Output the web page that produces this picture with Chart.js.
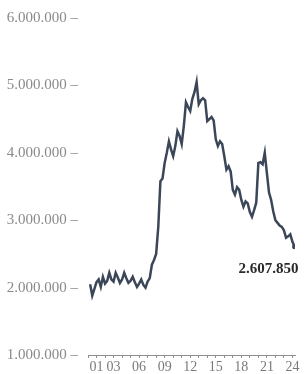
<!DOCTYPE html>
<html>
<head>
<meta charset="utf-8">
<script src="https://cdn.jsdelivr.net/npm/chart.js@4"></script>
<style>
  body { margin: 0; background: #fff; }
  canvas { display: block; }
</style>
</head>
<body>
<canvas id="chart" width="305" height="374"></canvas>
<script>
// quarterly points, decimal years
const dates = [
  2000.25, 2000.5, 2000.75,
  2001.0, 2001.25, 2001.5, 2001.75,
  2002.0, 2002.25, 2002.5, 2002.75,
  2003.0, 2003.25, 2003.5, 2003.75,
  2004.0, 2004.25, 2004.5, 2004.75,
  2005.0, 2005.25, 2005.5, 2005.75,
  2006.0, 2006.25, 2006.5, 2006.75,
  2007.0, 2007.25, 2007.5, 2007.75,
  2008.0, 2008.25, 2008.5, 2008.75,
  2009.0, 2009.25, 2009.5, 2009.75,
  2010.0, 2010.25, 2010.5, 2010.75,
  2011.0, 2011.25, 2011.5, 2011.75,
  2012.0, 2012.25, 2012.5, 2012.75,
  2013.0, 2013.25, 2013.5, 2013.75,
  2014.0, 2014.25, 2014.5, 2014.75,
  2015.0, 2015.25, 2015.5, 2015.75,
  2016.0, 2016.25, 2016.5, 2016.75,
  2017.0, 2017.25, 2017.5, 2017.75,
  2018.0, 2018.25, 2018.5, 2018.75,
  2019.0, 2019.25, 2019.5, 2019.75,
  2020.0, 2020.25, 2020.5, 2020.75,
  2021.0, 2021.25, 2021.5, 2021.75,
  2022.0, 2022.25, 2022.5, 2022.75,
  2023.0, 2023.25, 2023.5, 2023.75,
  2024.0, 2024.25
];

const values = [
  2050000, 1880000, 1980000,
  2080000, 2120000, 2010000, 2160000,
  2060000, 2100000, 2220000, 2120000,
  2090000, 2220000, 2150000, 2070000,
  2120000, 2220000, 2140000, 2070000,
  2100000, 2160000, 2080000, 2010000,
  2060000, 2120000, 2040000, 2000000,
  2090000, 2140000, 2340000, 2410000,
  2500000, 2900000, 3580000, 3620000,
  3850000, 4000000, 4170000, 4050000,
  3950000, 4100000, 4320000, 4250000,
  4130000, 4400000, 4750000, 4680000,
  4620000, 4800000, 4900000, 5050000,
  4720000, 4780000, 4810000, 4780000,
  4470000, 4500000, 4530000, 4480000,
  4200000, 4100000, 4170000, 4130000,
  3950000, 3750000, 3800000, 3720000,
  3450000, 3380000, 3490000, 3450000,
  3300000, 3200000, 3280000, 3250000,
  3120000, 3050000, 3150000, 3260000,
  3850000, 3860000, 3830000, 4000000,
  3700000, 3410000, 3300000, 3130000,
  3000000, 2960000, 2920000, 2900000,
  2850000, 2740000, 2760000, 2790000,
  2680000, 2607850
];

const yTicks = [1000000, 2000000, 3000000, 4000000, 5000000, 6000000];
const xTickYears = [2000, 2001, 2002, 2003, 2004, 2005, 2006, 2007, 2008, 2009, 2010, 2011, 2012,
  2013, 2014, 2015, 2016, 2017, 2018, 2019, 2020, 2021, 2022, 2023, 2024];
const xLabelYears = [2001, 2003, 2006, 2009, 2012, 2015, 2018, 2021, 2024];

const lineColor = "#3b4759";
const tickGray = "#8c8c8c";

function fmt(n) {
  return Math.round(n).toString().replace(/\B(?=(\d{3})+(?!\d))/g, ".");
}

// label under the last point
const lastLabel = {
  id: "lastLabel",
  afterDatasetsDraw(chart) {
    const meta = chart.getDatasetMeta(0);
    const pt = meta.data[meta.data.length - 1];
    const c = chart.ctx;
    c.save();
    c.font = "bold 15px 'Liberation Serif', serif";
    c.fillStyle = "#2a2a2a";
    c.textAlign = "right";
    c.textBaseline = "middle";
    c.fillText(fmt(values[values.length - 1]), pt.x + 4, pt.y + 22);
    c.restore();
  }
};

const points = dates.map((d, i) => ({ x: d, y: values[i] }));

new Chart(document.getElementById("chart"), {
  type: "line",
  data: {
    datasets: [{
      data: points,
      borderColor: lineColor,
      borderWidth: 2.5,
      tension: 0,
      pointRadius: ctx => ctx.dataIndex === values.length - 1 ? 2.5 : 0,
      pointBackgroundColor: lineColor,
      pointBorderWidth: 0
    }]
  },
  options: {
    responsive: false,
    animation: false,
    layout: { padding: { left: 4, right: 10, top: 18, bottom: 0 } },
    plugins: { legend: { display: false }, tooltip: { enabled: false } },
    scales: {
      x: {
        type: "linear",
        min: 2000,
        max: 2024.3,
        afterFit: s => { s.height = 19; },
        afterBuildTicks: s => { s.ticks = xTickYears.map(v => ({ value: v })); },
        border: { display: true, color: tickGray, width: 1 },
        grid: { drawOnChartArea: false, drawTicks: true, tickLength: 3, color: tickGray },
        ticks: {
          autoSkip: false,
          maxRotation: 0,
          padding: 1,
          color: "#7a7a7a",
          font: { family: "'Liberation Serif', serif", size: 14 },
          callback: v => xLabelYears.includes(v) ? String(v % 100).padStart(2, "0") : ""
        }
      },
      y: {
        min: 1000000,
        max: 6000000,
        afterFit: s => { s.width = 84; },
        afterBuildTicks: s => { s.ticks = yTicks.map(v => ({ value: v })); },
        border: { display: false },
        grid: { display: false },
        ticks: {
          padding: 2,
          color: "#8a8a8a",
          font: { family: "'Liberation Serif', serif", size: 15 },
          callback: v => fmt(v) + " \u2013"
        }
      }
    }
  },
  plugins: [lastLabel]
});
</script>
</body>
</html>
